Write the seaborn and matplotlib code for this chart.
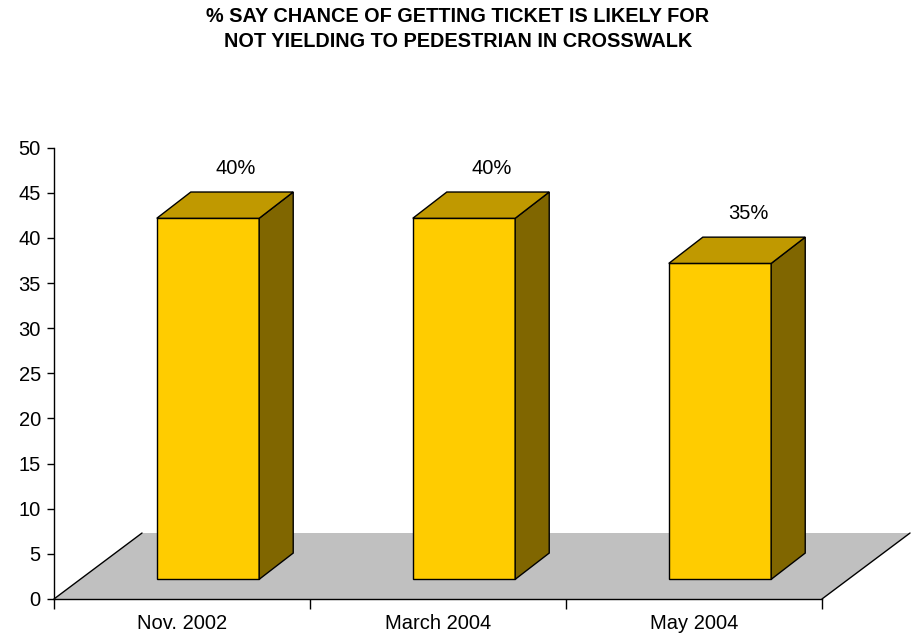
import matplotlib
matplotlib.use("Agg")
import matplotlib.pyplot as plt
from matplotlib.patches import Polygon
import seaborn as sns
import pandas as pd

# Survey periods and share of respondents (%)
categories = ["Nov. 2002", "March 2004", "May 2004"]
values = [40, 40, 35]
value_labels = ["40%", "40%", "35%"]
y_ticks = [0, 5, 10, 15, 20, 25, 30, 35, 40, 45, 50]
title = ("% SAY CHANCE OF GETTING TICKET IS LIKELY FOR\n"
         "NOT YIELDING TO PEDESTRIAN IN CROSSWALK")

sns.set_theme(style="white")
plt.rcParams["font.family"] = ["Liberation Sans", "DejaVu Sans"]

FRONT = "#FFCC00"
TOP = "#C09900"
SIDE = "#806600"
FLOOR = "#C0C0C0"
LABEL_SIZE = 14.5

# pseudo-3D depth, in data units (x: categories, y: percent)
floor_dx, floor_dy = 0.344, 7.31
bar_dx, bar_dy = 0.133, 2.91
inset_dx, inset_dy = 0.1016, 2.18

fig = plt.figure(figsize=(9.13, 6.35), dpi=100)
ax = fig.add_axes([0.0591, 0.0567, 0.8412, 0.7107])

df = pd.DataFrame({"period": categories, "pct": values})
sns.barplot(data=df, x="period", y="pct", color=FRONT, saturation=1,
            width=0.4, edgecolor="black", linewidth=1, errorbar=None,
            ax=ax, zorder=3)
bars = list(ax.patches)

ax.set_xlim(-0.5, 2.5)
ax.set_ylim(0, 50)

# floor plane
n = len(categories)
floor = Polygon([(-0.5, 0), (n - 0.5, 0), (n - 0.5 + floor_dx, floor_dy),
                 (-0.5 + floor_dx, floor_dy)], closed=True,
                facecolor=FLOOR, edgecolor="none", clip_on=False, zorder=1)
ax.add_patch(floor)
for x_edge in (-0.5, n - 0.5):
    ax.plot([x_edge, x_edge + floor_dx], [0, floor_dy], color="black",
            lw=1, clip_on=False, zorder=2)

# shift front faces onto the floor and add the top and side faces
for p, lab in zip(bars, value_labels):
    x0 = p.get_x() + inset_dx
    p.set_x(x0)
    p.set_y(inset_dy)
    w = p.get_width()
    h = p.get_height()
    x1 = x0 + w
    y0 = inset_dy
    y1 = inset_dy + h
    side = Polygon([(x1, y0), (x1 + bar_dx, y0 + bar_dy),
                    (x1 + bar_dx, y1 + bar_dy), (x1, y1)], closed=True,
                   facecolor=SIDE, edgecolor="black", lw=1, zorder=3,
                   clip_on=False)
    top = Polygon([(x0, y1), (x1, y1), (x1 + bar_dx, y1 + bar_dy),
                   (x0 + bar_dx, y1 + bar_dy)], closed=True,
                  facecolor=TOP, edgecolor="black", lw=1, zorder=3,
                  clip_on=False)
    ax.add_patch(side)
    ax.add_patch(top)
    ax.text(x0 + w / 2 + bar_dx - 0.023, y1 + bar_dy + 2.6, lab,
            ha="center", va="center", fontsize=LABEL_SIZE, color="black")

# axes styling
sns.despine(ax=ax)
for s in ("left", "bottom"):
    ax.spines[s].set_color("black")
    ax.spines[s].set_linewidth(1)
    ax.spines[s].set_zorder(4)

ax.set_yticks(y_ticks)
ax.set_yticklabels([str(t) for t in y_ticks])
ax.tick_params(axis="y", left=True, length=5, width=1, color="black",
               direction="out", pad=4.5, labelsize=LABEL_SIZE,
               labelcolor="black")

ax.set_xticks(range(n))
ax.set_xticklabels(categories)
ax.set_xticks([i - 0.5 for i in range(n + 1)], minor=True)
ax.tick_params(axis="x", which="major", bottom=False, length=0, pad=11,
               labelsize=LABEL_SIZE, labelcolor="black")
ax.tick_params(axis="x", which="minor", bottom=True, length=7, width=1,
               color="black", direction="out")
ax.set_xlabel("")
ax.set_ylabel("")
ax.grid(False)

fig.text(0.5016, 1 - 29 / 635, title, ha="center", va="center",
         fontsize=14.3, fontweight="bold", linespacing=1.45, color="black")

fig.savefig("out.png", dpi=100)
